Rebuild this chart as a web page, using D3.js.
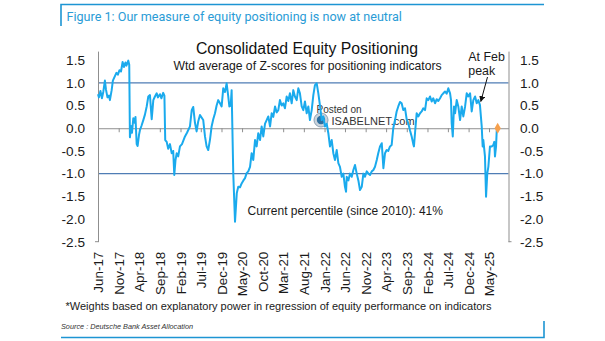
<!DOCTYPE html>
<html>
<head>
<meta charset="utf-8">
<script src="https://cdn.jsdelivr.net/npm/d3@7"></script>
<style>
  html, body { margin: 0; padding: 0; background: #ffffff; }
  svg { display: block; }
  text { font-family: "Liberation Sans", Arial, sans-serif; }
</style>
</head>
<body>
<svg id="chart" width="605" height="341"></svg>
<script>
// ---------------- DATA ----------------
const figureTitle = "Figure 1: Our measure of equity positioning is now at neutral";
const chartTitle = "Consolidated Equity Positioning";
const chartSubtitle = "Wtd average of Z-scores for positioning indicators";
const percentileNote = "Current percentile (since 2010): 41%";
const footnote = "*Weights based on explanatory power in regression of equity performance on indicators";
const sourceNote = "Source : Deutsche Bank Asset Allocation";
const annotationLines = ["At Feb", "peak"];

const tickLabels = ["Jun-17","Nov-17","Apr-18","Sep-18","Feb-19","Jul-19","Dec-19","May-20",
  "Oct-20","Mar-21","Aug-21","Jan-22","Jun-22","Nov-22","Apr-23","Sep-23","Feb-24","Jul-24",
  "Dec-24","May-25"];
const yTicks = [1.5, 1.0, 0.5, 0.0, -0.5, -1.0, -1.5, -2.0, -2.5];
const bandLevels = [1.0, -1.0];

const dates = [
  "2017-06-01","2017-06-08","2017-06-19","2017-06-30","2017-07-10","2017-07-22","2017-07-30","2017-08-10",
  "2017-08-21","2017-08-28","2017-09-10","2017-09-19","2017-10-04","2017-10-15","2017-10-26","2017-11-07",
  "2017-11-18","2017-11-30","2017-12-10","2017-12-21","2017-12-28","2018-01-11","2018-01-18","2018-01-23",
  "2018-01-31","2018-02-07","2018-02-17","2018-02-26","2018-03-05","2018-03-14","2018-03-21","2018-03-31",
  "2018-04-07","2018-04-18","2018-05-02","2018-05-14","2018-05-27","2018-06-08","2018-06-20","2018-07-03",
  "2018-07-15","2018-07-27","2018-08-09","2018-08-18","2018-09-02","2018-09-13","2018-09-26","2018-10-05",
  "2018-10-11","2018-10-22","2018-11-02","2018-11-15","2018-11-28","2018-12-09","2018-12-17","2018-12-26",
  "2019-01-04","2019-01-15","2019-01-28","2019-02-12","2019-03-06","2019-03-21","2019-04-12","2019-04-25",
  "2019-05-06","2019-05-19","2019-05-31","2019-06-12","2019-06-25","2019-07-19","2019-08-01","2019-08-13",
  "2019-08-25","2019-09-07","2019-09-19","2019-10-01","2019-10-14","2019-10-26","2019-11-07","2019-11-20",
  "2019-12-02","2019-12-14","2019-12-27","2020-01-08","2020-01-20","2020-01-28","2020-02-07","2020-02-14",
  "2020-02-26","2020-03-10","2020-03-23","2020-04-03","2020-04-16","2020-04-29","2020-05-11","2020-05-23",
  "2020-06-04","2020-06-16","2020-06-29","2020-07-11","2020-07-23","2020-08-05","2020-08-17","2020-08-29",
  "2020-09-11","2020-09-23","2020-10-05","2020-10-18","2020-10-30","2020-11-11","2020-11-24","2020-12-06",
  "2020-12-18","2020-12-31","2021-01-12","2021-01-24","2021-02-05","2021-02-18","2021-03-02","2021-03-14",
  "2021-03-27","2021-04-08","2021-04-20","2021-05-03","2021-05-15","2021-05-27","2021-06-09","2021-06-21",
  "2021-07-03","2021-07-16","2021-07-28","2021-08-09","2021-08-22","2021-09-03","2021-09-15","2021-09-28",
  "2021-10-10","2021-10-22","2021-11-04","2021-11-16","2021-11-29","2021-12-11","2021-12-23","2022-01-04",
  "2022-01-17","2022-01-29","2022-02-10","2022-02-23","2022-03-07","2022-03-19","2022-04-01","2022-04-13",
  "2022-04-25","2022-05-08","2022-05-20","2022-06-01","2022-06-09","2022-06-14","2022-06-26","2022-07-08",
  "2022-07-21","2022-08-02","2022-08-14","2022-08-27","2022-09-08","2022-09-20","2022-10-03","2022-10-15",
  "2022-10-27","2022-11-09","2022-11-21","2022-12-03","2022-12-16","2022-12-28","2023-01-09","2023-01-22",
  "2023-02-02","2023-02-15","2023-02-28","2023-03-12","2023-03-24","2023-04-05","2023-04-17","2023-04-30",
  "2023-05-12","2023-05-24","2023-06-06","2023-06-18","2023-06-30","2023-07-13","2023-07-25","2023-08-06",
  "2023-08-19","2023-08-31","2023-09-12","2023-09-25","2023-10-07","2023-10-19","2023-10-24","2023-11-01",
  "2023-11-13","2023-11-25","2023-12-08","2023-12-20","2024-01-01","2024-01-14","2024-01-26","2024-02-07",
  "2024-02-20","2024-03-03","2024-03-15","2024-03-28","2024-04-09","2024-04-21","2024-05-04","2024-05-16",
  "2024-05-28","2024-06-10","2024-06-22","2024-07-04","2024-07-17","2024-07-24","2024-07-29","2024-08-06",
  "2024-08-15","2024-08-23","2024-09-04","2024-09-16","2024-09-29","2024-10-11","2024-10-23","2024-11-05",
  "2024-11-17","2024-11-29","2024-12-12","2024-12-24","2025-01-05","2025-01-18","2025-01-30","2025-02-11",
  "2025-02-23","2025-03-08","2025-03-15","2025-03-20","2025-04-01","2025-04-09","2025-04-18","2025-04-26",
  "2025-05-08","2025-05-21","2025-06-02","2025-06-09","2025-06-14","2025-06-22","2025-06-27","2025-07-04"
];
const values = [
  0.75,0.68,0.82,0.66,0.80,1.05,0.85,0.68,
  0.72,0.62,0.84,1.05,1.15,1.22,1.18,1.28,
  1.25,1.46,1.35,1.45,1.38,1.49,1.40,-0.20,
  0.05,-0.10,0.22,0.12,0.25,-0.35,-0.39,-0.15,
  -0.04,0.05,0.18,0.30,0.48,0.70,0.73,0.20,
  0.62,0.70,0.77,0.68,0.75,0.66,0.78,0.72,
  -0.26,-0.30,-0.45,-0.35,-0.55,-0.50,-1.03,-0.70,
  -0.55,-0.62,-0.40,-0.35,-0.18,-0.10,0.04,0.40,
  0.47,0.12,-0.07,0.15,0.29,0.18,-0.18,-0.40,
  -0.48,-0.25,0.04,0.20,0.33,0.50,0.62,0.55,
  0.48,0.88,0.80,0.99,0.70,0.48,0.50,0.84,
  -0.99,-2.06,-1.43,-1.29,-1.30,-1.21,-1.15,-1.10,
  -0.99,-0.95,-0.85,-0.55,-0.70,-0.26,-0.40,-0.11,
  -0.26,0.04,-0.18,0.10,0.18,0.26,0.04,0.33,
  0.25,0.48,0.35,0.40,0.62,0.50,0.55,0.44,
  0.70,0.60,0.77,0.55,0.84,0.70,0.62,0.88,
  0.77,0.48,0.40,0.59,0.33,0.48,0.18,0.40,
  0.73,0.95,0.99,0.77,0.48,0.18,0.26,0.04,
  0.10,-0.11,-0.40,-0.26,-0.55,-0.70,-0.48,-0.77,
  -0.85,-1.07,-1.00,-1.29,-1.40,-1.07,-1.15,-1.00,
  -1.07,-0.92,-0.81,-1.00,-1.15,-1.36,-1.29,-1.00,
  -1.07,-0.95,-1.00,-1.03,-0.95,-0.92,-0.85,-0.70,
  -0.55,-0.40,-0.33,-0.88,-0.55,-0.48,-0.50,-0.40,
  -0.37,0.00,0.18,0.37,0.48,0.58,0.55,0.40,
  0.44,0.20,0.11,-0.05,-0.18,-0.35,-0.40,-0.10,
  0.33,0.26,0.33,0.37,0.44,0.40,0.66,0.62,
  0.70,0.59,0.66,0.55,0.64,0.60,0.66,0.73,
  0.77,0.81,0.76,0.88,0.77,0.62,0.11,-0.18,
  0.48,0.33,0.62,0.48,0.18,0.48,0.26,0.48,
  0.77,0.70,0.77,0.37,0.62,0.70,0.55,0.62,
  0.51,0.04,-0.40,-0.26,-0.62,-1.51,-1.00,-0.85,
  -0.40,-0.40,-0.37,-0.30,-0.62,-0.40,-0.05,0.00
];

// ---------------- LAYOUT ----------------
const svg = d3.select("#chart");
const parseDate = d3.timeParse("%Y-%m-%d");
const parseTick = d3.timeParse("%b-%y");
const series = dates.map((d, i) => ({ date: parseDate(d), value: values[i] }));
const tickDates = tickLabels.map(parseTick);

const x = d3.scaleTime()
  .domain([parseDate("2017-06-01"), parseDate("2025-09-22")])
  .range([98, 508.5]);
const y = d3.scaleLinear().domain([-2.5, 1.7]).range([241.7, 51.1]);

const blue = "#1d95d3";
const axisGray = "#8f8f8f";

// Frame brackets
svg.append("path").attr("d", "M61,26V4.5H544").attr("fill", "none")
  .attr("stroke", blue).attr("stroke-width", 1.6);
svg.append("path").attr("d", "M61,337.5H544V321").attr("fill", "none")
  .attr("stroke", blue).attr("stroke-width", 1.6);

svg.append("text").attr("x", 66.5).attr("y", 21)
  .style("font-family", "Roboto, 'Noto Sans', sans-serif").style("font-size", "12.6px")
  .attr("fill", "#2a9cd6").text(figureTitle);

// Horizontal +/-1 lines
svg.append("g").selectAll("line").data(bandLevels).join("line")
  .attr("x1", x.range()[0]).attr("x2", x.range()[1])
  .attr("y1", d => y(d)).attr("y2", d => y(d))
  .attr("stroke", "#4f7db5").attr("stroke-width", 1.3);

// Zero line with month ticks
const zeroAxis = d3.axisBottom(x).tickValues(tickDates.slice(1)).tickFormat("").tickSize(4).tickSizeOuter(0);
const zg = svg.append("g").attr("transform", `translate(0,${y(0)})`).call(zeroAxis);
zg.select(".domain").attr("stroke", axisGray).attr("stroke-width", 1);
zg.selectAll(".tick line").attr("stroke", axisGray);

// X labels (rotated)
const labelAxis = d3.axisBottom(x).tickValues(tickDates).tickFormat(d3.timeFormat("%b-%y")).tickSize(0);
const lg = svg.append("g").attr("transform", `translate(0,${y(-2.5)})`).call(labelAxis);
lg.select(".domain").remove();
lg.selectAll(".tick text")
  .attr("transform", "rotate(-90)")
  .attr("text-anchor", "end")
  .attr("x", -10).attr("y", 0).attr("dy", "0.36em")
  .style("font-family", "'Liberation Sans', Arial, sans-serif")
  .style("font-size", "13.4px").attr("fill", "#1a1a1a");

// Y axes
const fmt = d => d.toFixed(1);
const leftAxis = d3.axisLeft(y).tickValues(yTicks).tickFormat(fmt).tickSize(0).tickPadding(13);
const la = svg.append("g").attr("transform", `translate(${x.range()[0]},0)`).call(leftAxis);
const rightAxis = d3.axisRight(y).tickValues(yTicks).tickFormat(fmt).tickSize(0).tickPadding(11.5);
const ra = svg.append("g").attr("transform", `translate(${x.range()[1]},0)`).call(rightAxis);
[la, ra].forEach(g => {
  g.select(".domain").attr("stroke", axisGray).attr("stroke-width", 1);
  g.selectAll(".tick text")
    .style("font-family", "'Liberation Sans', Arial, sans-serif")
    .style("font-size", "13.6px").attr("fill", "#1a1a1a");
});
// small end ticks at the bottom
svg.append("line").attr("x1", x.range()[0] - 3).attr("x2", x.range()[0])
  .attr("y1", y(-2.5)).attr("y2", y(-2.5)).attr("stroke", axisGray);
svg.append("line").attr("x1", x.range()[1]).attr("x2", x.range()[1] + 3)
  .attr("y1", y(-2.5)).attr("y2", y(-2.5)).attr("stroke", axisGray);

// Titles
svg.append("text").attr("x", 307).attr("y", 53.5).attr("text-anchor", "middle")
  .style("font-size", "15.8px").attr("fill", "#111").text(chartTitle);
svg.append("text").attr("x", 307.5).attr("y", 69.5).attr("text-anchor", "middle")
  .style("font-size", "12.2px").attr("fill", "#1a1a1a").text(chartSubtitle);

// Watermark
const wm = svg.append("g");
wm.append("circle").attr("cx", 321).attr("cy", 120).attr("r", 7)
  .attr("fill", "#c9d3dc").attr("stroke", "#8fa3b5").attr("stroke-width", 1);
wm.append("circle").attr("cx", 321).attr("cy", 120).attr("r", 4.2).attr("fill", "#2f6f9e");
wm.append("text").attr("x", 316.5).attr("y", 112.5).style("font-size", "10px")
  .attr("fill", "#333").text("Posted on");
wm.append("text").attr("x", 331.5).attr("y", 124.5).style("font-size", "11px")
  .attr("fill", "#333").text("ISABELNET.com");

// Main line
const line = d3.line().x(d => x(d.date)).y(d => y(d.value));
svg.append("path").datum(series).attr("d", line).attr("fill", "none")
  .attr("stroke", "#1aaaed").attr("stroke-width", 2).attr("stroke-linejoin", "round");

// Last point marker
const last = series[series.length - 1];
svg.append("path").attr("d", d3.symbol(d3.symbolDiamond, 34)())
  .attr("transform", `translate(${x(last.date)},${y(last.value)})`)
  .attr("fill", "#f6a04d");

// Annotation
svg.append("text").attr("x", 468.3).attr("y", 60.5).style("font-size", "12.4px")
  .attr("fill", "#1a1a1a").text(annotationLines[0]);
svg.append("text").attr("x", 468.3).attr("y", 74.5).style("font-size", "12.4px")
  .attr("fill", "#1a1a1a").text(annotationLines[1]);
svg.append("defs").append("marker").attr("id", "arrowhead")
  .attr("viewBox", "0 0 10 10").attr("refX", 9).attr("refY", 5)
  .attr("markerWidth", 6).attr("markerHeight", 6).attr("orient", "auto")
  .append("path").attr("d", "M0,0L10,5L0,10z").attr("fill", "#111");
svg.append("line").attr("x1", 487.5).attr("y1", 77).attr("x2", 480.8).attr("y2", 101.5)
  .attr("stroke", "#111").attr("stroke-width", 1).attr("marker-end", "url(#arrowhead)");

// Percentile note
svg.append("text").attr("x", 247.5).attr("y", 215).style("font-size", "12px")
  .attr("fill", "#1a1a1a").text(percentileNote);

// Footnote and source
svg.append("text").attr("x", 278.5).attr("y", 310).attr("text-anchor", "middle")
  .style("font-size", "11px").attr("fill", "#1a1a1a").text(footnote);
svg.append("text").attr("x", 61).attr("y", 328.5)
  .style("font-size", "7.3px").style("font-style", "italic")
  .attr("fill", "#333").text(sourceNote);
</script>
</body>
</html>
